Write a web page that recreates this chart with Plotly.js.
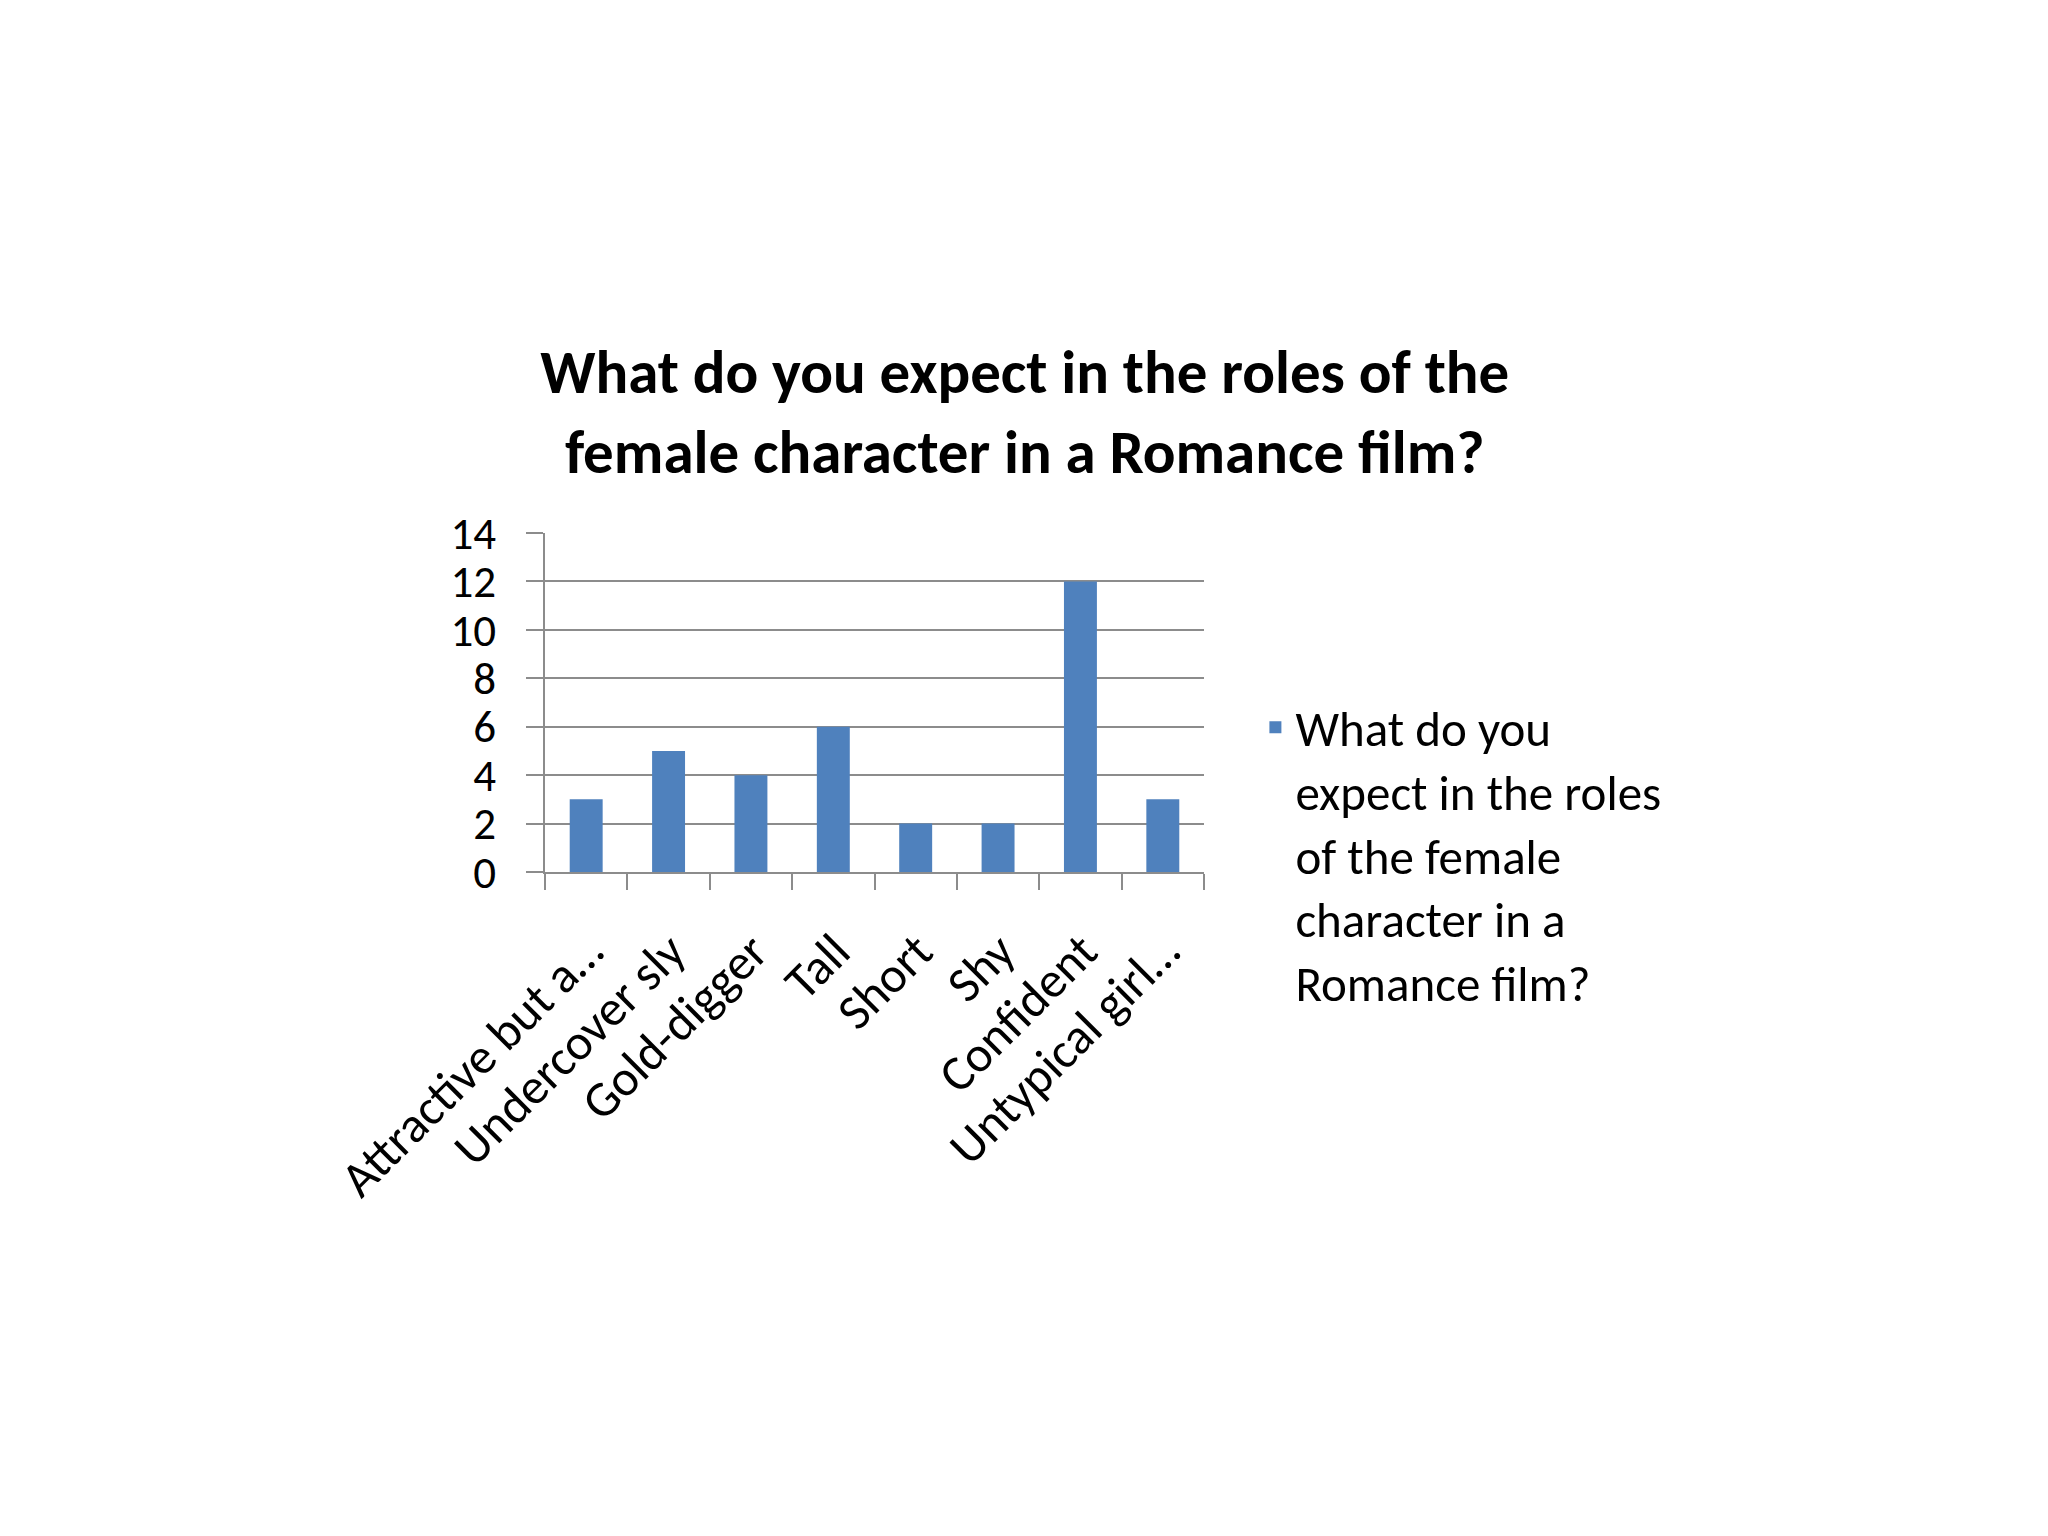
<!DOCTYPE html>
<html>
<head>
<meta charset="utf-8">
<script src="https://cdn.plot.ly/plotly-3.0.1.min.js"></script>
<style>
  html, body { margin: 0; padding: 0; background: #ffffff; }
  #chart { width: 2048px; height: 1536px; }
</style>
</head>
<body>
<div id="chart"></div>
<script>
// survey answers, one bar per answer
var categories = ['Attractive but a…', 'Undercover sly', 'Gold-digger', 'Tall',
                  'Short', 'Shy', 'Confident', 'Untypical girl…'];
var counts = [3, 5, 4, 6, 2, 2, 12, 3];
var yTicks = [0, 2, 4, 6, 8, 10, 12, 14];

var seriesName = 'What do you<br>expect in the roles<br>of the female<br>character in a<br>Romance film?';
var chartTitle = 'What do you expect in the roles of the<br>female character in a Romance film?';

var FONT = 'Carlito, Lato, sans-serif';
var GRID = '#8c8c8c';

var traces = [
    {
        type: 'bar',
        x: categories,
        y: counts,
        name: seriesName,
        marker: { color: '#4f81bd' },
        hoverinfo: 'x+y'
    }
];

var layout = {
    width: 2048,
    height: 1536,
    paper_bgcolor: '#ffffff',
    plot_bgcolor: '#ffffff',
    font: { family: FONT, size: 50, color: '#000000' },
    margin: { l: 545, r: 844, t: 533, b: 664, pad: 0 },
    title: {
        text: '<b>' + chartTitle + '</b>',
        font: { family: FONT, size: 61, color: '#000000' },
        xref: 'paper',
        x: 0.728,
        xanchor: 'center',
        yref: 'container',
        y: 0.744,
        yanchor: 'middle'
    },
    bargap: 0.6,
    showlegend: true,
    legend: {
        x: 1.078,
        xanchor: 'left',
        y: 0.54,
        yanchor: 'top',
        valign: 'top',
        font: { family: FONT, size: 49, color: '#000000' },
        bgcolor: 'rgba(0,0,0,0)'
    },
    xaxis: {
        type: 'category',
        tickangle: -45,
        tickson: 'boundaries',
        ticks: 'outside',
        ticklen: 16,
        tickwidth: 2,
        tickcolor: GRID,
        showline: true,
        linecolor: GRID,
        linewidth: 2,
        showgrid: false,
        ticklabelstandoff: 28,
        ticklabelshift: 2,
        tickfont: { family: FONT, size: 50, color: '#000000' }
    },
    yaxis: {
        range: [0, 14],
        tickvals: yTicks,
        ticks: 'outside',
        ticklen: 17,
        tickwidth: 2,
        tickcolor: GRID,
        showline: true,
        linecolor: GRID,
        linewidth: 2,
        showgrid: true,
        gridcolor: GRID,
        gridwidth: 2,
        zeroline: false,
        ticklabelstandoff: 21,
        tickfont: { family: FONT, size: 45, color: '#000000' }
    }
};

Plotly.newPlot('chart', traces, layout, { displayModeBar: false, staticPlot: true });
</script>
</body>
</html>
